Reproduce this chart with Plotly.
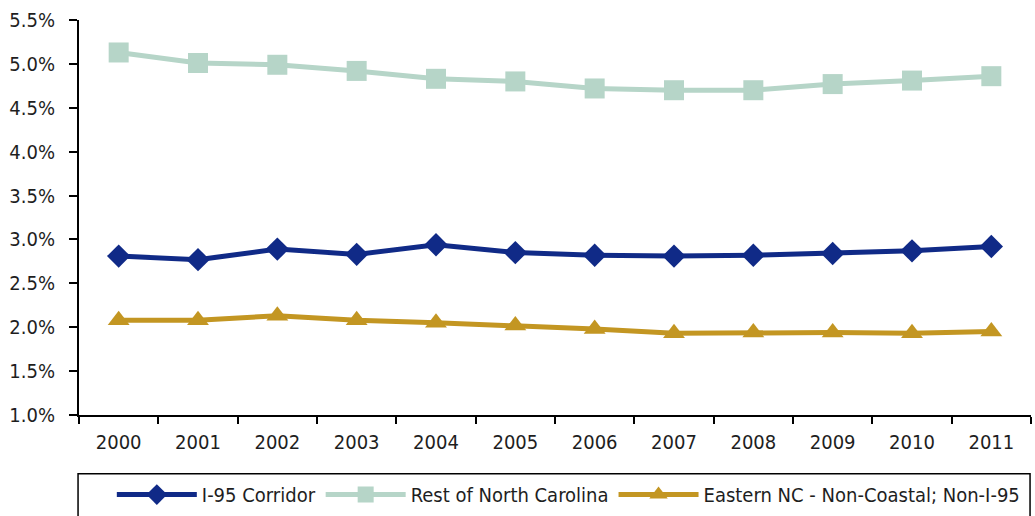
import plotly.graph_objects as go

years = ["2000", "2001", "2002", "2003", "2004", "2005",
         "2006", "2007", "2008", "2009", "2010", "2011"]

i95_corridor = [2.81, 2.77, 2.89, 2.83, 2.94, 2.85, 2.82, 2.81, 2.82, 2.84, 2.87, 2.92]
rest_of_nc = [5.13, 5.01, 4.99, 4.92, 4.83, 4.80, 4.72, 4.70, 4.70, 4.77, 4.81, 4.86]
eastern_nc = [2.08, 2.08, 2.13, 2.08, 2.05, 2.02, 1.98, 1.93, 1.94, 1.94, 1.93, 1.95]

y_ticks = [1.0, 1.5, 2.0, 2.5, 3.0, 3.5, 4.0, 4.5, 5.0, 5.5]
y_tick_labels = [f"{v:.1f}%" for v in y_ticks]

FONT = "DejaVu Sans Condensed, Liberation Sans Narrow, sans-serif"
TEXT = "#1e1e1e"
FS = 20

fig = go.Figure()
fig.add_trace(go.Scatter(
    x=years, y=i95_corridor, name="I-95 Corridor", mode="lines+markers",
    line=dict(color="#102a87", width=5),
    marker=dict(symbol="diamond", size=18, color="#102a87"),
))
fig.add_trace(go.Scatter(
    x=years, y=rest_of_nc, name="Rest of North Carolina", mode="lines+markers",
    line=dict(color="#b6d5c8", width=5),
    marker=dict(symbol="square", size=20, color="#b6d5c8"),
))
fig.add_trace(go.Scatter(
    x=years, y=eastern_nc, name="Eastern NC - Non-Coastal; Non-I-95", mode="lines+markers",
    line=dict(color="#c39622", width=5),
    marker=dict(symbol="triangle-up", size=19, color="#c39622"),
))

# legend frame spanning the plot width
fig.add_shape(type="rect", xref="paper", yref="paper",
              x0=-0.001, x1=0.999, y0=-0.149, y1=-0.40,
              line=dict(color="black", width=1.5), fillcolor="rgba(0,0,0,0)")

fig.update_layout(
    width=1035, height=516,
    margin=dict(l=79, r=4, t=20, b=101, autoexpand=False),
    paper_bgcolor="white", plot_bgcolor="white",
    font=dict(family=FONT, size=FS, color=TEXT),
    showlegend=True,
    legend=dict(orientation="h", x=0.514, xanchor="center", y=-0.152, yanchor="top",
                font=dict(family=FONT, size=FS, color=TEXT),
                itemwidth=80, tracegroupgap=0, bgcolor="rgba(0,0,0,0)"),
    xaxis=dict(
        type="category", range=[-0.5, 11.5], tickson="boundaries",
        showline=True, linecolor="black", linewidth=2,
        ticks="outside", ticklen=7, tickwidth=1.5, tickcolor="black",
        ticklabelstandoff=8,
        showgrid=False, zeroline=False,
        tickfont=dict(family=FONT, size=FS, color=TEXT),
    ),
    yaxis=dict(
        range=[1.0, 5.5], tickvals=y_ticks, ticktext=y_tick_labels,
        showline=True, linecolor="black", linewidth=2,
        ticks="outside", ticklen=8, tickwidth=1.5, tickcolor="black",
        ticklabelstandoff=10,
        showgrid=False, zeroline=False,
        tickfont=dict(family=FONT, size=FS, color=TEXT),
    ),
)

fig.write_html("out.html")
